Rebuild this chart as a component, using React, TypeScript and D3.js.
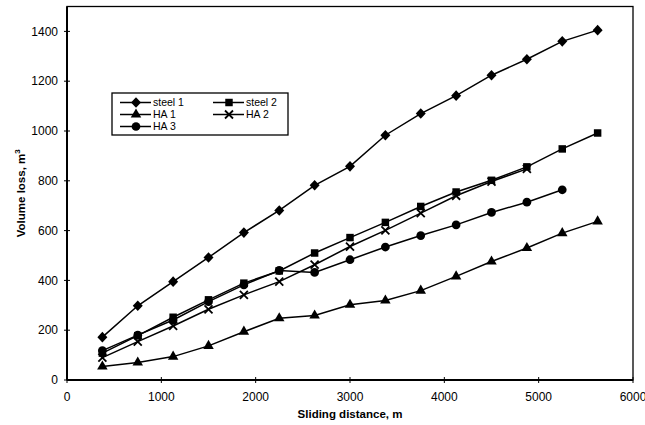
import { scaleLinear, line as d3Line, symbol, symbolSquare, symbolTriangle, symbolCircle } from "d3";

const distances = [375, 750, 1125, 1500, 1875, 2250, 2625, 3000, 3375, 3750, 4125, 4500, 4875, 5250, 5625];

const steel1 = [172, 298, 395, 492, 592, 681, 782, 858, 983, 1070, 1142, 1224, 1288, 1360, 1405];
const steel2 = [108, 178, 252, 322, 389, 438, 510, 572, 633, 697, 755, 802, 856, 928, 992];
const ha1 = [54, 70, 94, 137, 194, 248, 259, 302, 319, 359, 416, 476, 530, 590, 637];
const ha2 = [90, 154, 217, 284, 342, 395, 463, 536, 601, 670, 740, 797, 848];
const ha3 = [118, 180, 241, 315, 382, 440, 432, 483, 534, 580, 623, 673, 714, 764];

const xTicks = [0, 1000, 2000, 3000, 4000, 5000, 6000];
const yTicks = [0, 200, 400, 600, 800, 1000, 1200, 1400];

type Marker = "diamond" | "square" | "triangle" | "cross" | "circle";

const seriesList: { name: string; values: number[]; marker: Marker }[] = [
  { name: "steel 1", values: steel1, marker: "diamond" },
  { name: "steel 2", values: steel2, marker: "square" },
  { name: "HA 1", values: ha1, marker: "triangle" },
  { name: "HA 2", values: ha2, marker: "cross" },
  { name: "HA 3", values: ha3, marker: "circle" },
];

const FONT = "'Liberation Sans', Arial, sans-serif";

const MarkerShape = ({ kind, x, y }: { kind: Marker; x: number; y: number }) => {
  if (kind === "cross") {
    const s = 4;
    return (
      <path
        d={`M${x - s},${y - s}L${x + s},${y + s}M${x - s},${y + s}L${x + s},${y - s}`}
        stroke="#000"
        strokeWidth={1.8}
      />
    );
  }
  if (kind === "diamond") {
    const w = 5;
    const h = 5.3;
    return <path d={`M${x},${y - h}L${x + w},${y}L${x},${y + h}L${x - w},${y}Z`} fill="#000" />;
  }
  const sym = kind === "square" ? symbolSquare : kind === "triangle" ? symbolTriangle : symbolCircle;
  const size = kind === "square" ? 56 : kind === "triangle" ? 48 : 60;
  return <path d={symbol(sym, size)() ?? ""} transform={`translate(${x},${y})`} fill="#000" />;
};

export default function App() {
  const left = 67;
  const right = 633;
  const top = 6.5;
  const bottom = 380;

  const xScale = scaleLinear().domain([0, 6000]).range([left, right]);
  const yScale = scaleLinear().domain([0, 1500]).range([bottom, top]);

  const lineGen = d3Line<[number, number]>()
    .x((d) => xScale(d[0]))
    .y((d) => yScale(d[1]));

  const legendRows = [
    { s: seriesList[0], col: 0, row: 0 },
    { s: seriesList[1], col: 1, row: 0 },
    { s: seriesList[2], col: 0, row: 1 },
    { s: seriesList[3], col: 1, row: 1 },
    { s: seriesList[4], col: 0, row: 2 },
  ];

  return (
    <div style={{ position: "absolute", left: 0, top: 0 }}>
      <svg width={645} height={425} style={{ display: "block", background: "#fff" }}>
        {/* plot frame */}
        <rect x={left} y={top} width={right - left} height={bottom - top} fill="none" stroke="#000" strokeWidth={1.3} />
        <line x1={left} y1={top} x2={left} y2={bottom} stroke="#000" strokeWidth={2} />
        <line x1={left} y1={bottom} x2={right} y2={bottom} stroke="#000" strokeWidth={1.8} />

        {yTicks.map((t) => (
          <g key={`y-${t}`} transform={`translate(${left},${yScale(t)})`}>
            <line x1={-3} x2={3} stroke="#000" strokeWidth={1} />
            <text x={-9} dy="0.35em" textAnchor="end" fontFamily={FONT} fontSize={12} fill="#000">
              {t}
            </text>
          </g>
        ))}

        {xTicks.map((t) => (
          <g key={`x-${t}`} transform={`translate(${xScale(t)},${bottom})`}>
            <line y1={-3} y2={3} stroke="#000" strokeWidth={1} />
            <text y={21} textAnchor="middle" fontFamily={FONT} fontSize={12} fill="#000">
              {t}
            </text>
          </g>
        ))}

        <text x={(left + right) / 2} y={418} textAnchor="middle" fontFamily={FONT} fontSize={11.5} fontWeight="bold" fill="#000">
          Sliding distance, m
        </text>
        <text
          transform={`translate(25,${(top + bottom) / 2}) rotate(-90)`}
          textAnchor="middle"
          fontFamily={FONT}
          fontSize={11.5}
          fontWeight="bold"
          fill="#000"
        >
          Volume loss, m<tspan dy={-5} fontSize={8}>3</tspan>
        </text>

        {seriesList.map((s) => {
          const pts = s.values.map((v, i) => [distances[i], v] as [number, number]);
          return (
            <g key={s.name}>
              <path d={lineGen(pts) ?? ""} fill="none" stroke="#000" strokeWidth={1.5} />
              {pts.map((p, i) => (
                <MarkerShape key={i} kind={s.marker} x={xScale(p[0])} y={yScale(p[1])} />
              ))}
            </g>
          );
        })}

        {/* legend */}
        <g>
          <rect x={112} y={93} width={176} height={42} fill="#fff" stroke="#000" strokeWidth={1.3} />
          {legendRows.map(({ s, col, row }) => {
            const x0 = col === 0 ? 120 : 213;
            const y0 = 102.5 + row * 12;
            return (
              <g key={`lg-${s.name}`}>
                <line x1={x0} x2={x0 + 31} y1={y0} y2={y0} stroke="#000" strokeWidth={1.5} />
                <MarkerShape kind={s.marker} x={x0 + 16} y={y0} />
                <text x={x0 + 33} y={y0} dy="0.36em" fontFamily={FONT} fontSize={10.5} fill="#000">
                  {s.name}
                </text>
              </g>
            );
          })}
        </g>
      </svg>
    </div>
  );
}
